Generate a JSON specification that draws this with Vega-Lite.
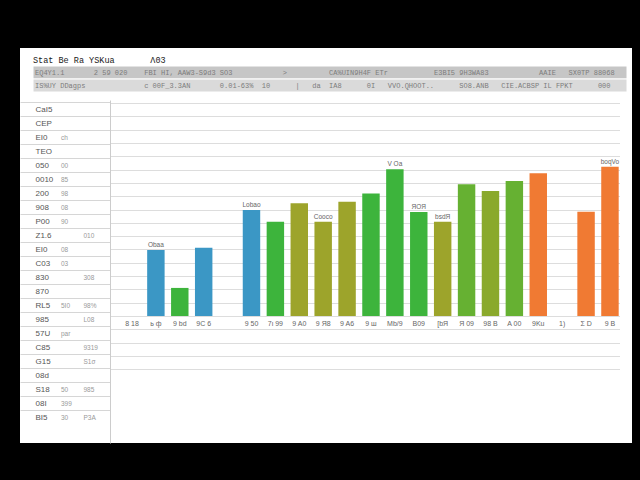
{
  "$schema": "https://vega.github.io/schema/vega-lite/v6.json",
  "background": "#000000",
  "padding": {"left": 20, "top": 48, "right": 8, "bottom": 37},
  "spacing": 0,
  "resolve": {"scale": {"color": "independent", "size": "independent"}},
  "config": {"view": {"fill": "#ffffff", "stroke": null}},
  "datasets": {
    "header": [
      {"row": "t", "txt": "Stat Be Ra YSKua\u00a0\u00a0\u00a0\u00a0\u00a0\u00a0\u00a0Λ03"},
      {"row": "b1", "txt": "EQ4Y1.1\u00a0\u00a0\u00a0\u00a0\u00a0\u00a0\u00a02 59 020\u00a0\u00a0\u00a0\u00a0FBI HI, AAW3-S9d3 SO3\u00a0\u00a0\u00a0\u00a0\u00a0\u00a0\u00a0\u00a0\u00a0\u00a0\u00a0\u00a0>\u00a0\u00a0\u00a0\u00a0\u00a0\u00a0\u00a0\u00a0\u00a0\u00a0CA%UIN9H4F ETr\u00a0\u00a0\u00a0\u00a0\u00a0\u00a0\u00a0\u00a0\u00a0\u00a0\u00a0E3BI5 9H3WA83\u00a0\u00a0\u00a0\u00a0\u00a0\u00a0\u00a0\u00a0\u00a0\u00a0\u00a0\u00a0AAIE\u00a0\u00a0\u00a0SX0TP 88068"},
      {"row": "b2", "txt": "IS%UY DDagps\u00a0\u00a0\u00a0\u00a0\u00a0\u00a0\u00a0\u00a0\u00a0\u00a0\u00a0\u00a0\u00a0\u00a0c 00F_3.3AN\u00a0\u00a0\u00a0\u00a0\u00a0\u00a0\u00a00.01-63%\u00a0\u00a010\u00a0\u00a0\u00a0\u00a0\u00a0\u00a0|\u00a0\u00a0\u00a0da\u00a0\u00a0IA8\u00a0\u00a0\u00a0\u00a0\u00a0\u00a00I\u00a0\u00a0\u00a0VVO.QHOOT..\u00a0\u00a0\u00a0\u00a0\u00a0\u00a0SO8.ANB\u00a0\u00a0\u00a0CIE.ACBSP IL FPKT\u00a0\u00a0\u00a0\u00a0\u00a0\u00a0000"}
    ],
    "table": [
      {"r": 1, "c": "a", "t": "CaI5"},
      {"r": 2, "c": "a", "t": "CEP"},
      {"r": 3, "c": "a", "t": "EI0"}, {"r": 3, "c": "b", "t": "ch"},
      {"r": 4, "c": "a", "t": "TEO"},
      {"r": 5, "c": "a", "t": "050"}, {"r": 5, "c": "b", "t": "00"},
      {"r": 6, "c": "a", "t": "0010"}, {"r": 6, "c": "b", "t": "85"},
      {"r": 7, "c": "a", "t": "200"}, {"r": 7, "c": "b", "t": "98"},
      {"r": 8, "c": "a", "t": "908"}, {"r": 8, "c": "b", "t": "08"},
      {"r": 9, "c": "a", "t": "P00"}, {"r": 9, "c": "b", "t": "90"},
      {"r": 10, "c": "a", "t": "Z1.6"}, {"r": 10, "c": "c", "t": "010"},
      {"r": 11, "c": "a", "t": "EI0"}, {"r": 11, "c": "b", "t": "08"},
      {"r": 12, "c": "a", "t": "C03"}, {"r": 12, "c": "b", "t": "03"},
      {"r": 13, "c": "a", "t": "830"}, {"r": 13, "c": "c", "t": "308"},
      {"r": 14, "c": "a", "t": "870"},
      {"r": 15, "c": "a", "t": "RL5"}, {"r": 15, "c": "b", "t": "5I0"}, {"r": 15, "c": "c", "t": "98%"},
      {"r": 16, "c": "a", "t": "985"}, {"r": 16, "c": "c", "t": "L08"},
      {"r": 17, "c": "a", "t": "57U"}, {"r": 17, "c": "b", "t": "par"},
      {"r": 18, "c": "a", "t": "C85"}, {"r": 18, "c": "c", "t": "9319"},
      {"r": 19, "c": "a", "t": "G15"}, {"r": 19, "c": "c", "t": "S1σ"},
      {"r": 20, "c": "a", "t": "08d"},
      {"r": 21, "c": "a", "t": "S18"}, {"r": 21, "c": "b", "t": "50"}, {"r": 21, "c": "c", "t": "985"},
      {"r": 22, "c": "a", "t": "08I"}, {"r": 22, "c": "b", "t": "399"},
      {"r": 23, "c": "a", "t": "BI5"}, {"r": 23, "c": "b", "t": "30"}, {"r": 23, "c": "c", "t": "P3A"}
    ],
    "bars": [
      {"k": "ь ф", "v": 49.6, "g": "A", "n": "Obaa"},
      {"k": "9 bd", "v": 21.1, "g": "B"},
      {"k": "9C 6", "v": 51.4, "g": "A"},
      {"k": "9 50", "v": 79.7, "g": "A", "n": "Lobao"},
      {"k": "7ι 99", "v": 70.9, "g": "B"},
      {"k": "9 A0", "v": 84.7, "g": "C"},
      {"k": "9 Я8", "v": 70.9, "g": "C", "n": "Cooco"},
      {"k": "9 A6", "v": 85.9, "g": "C"},
      {"k": "9 ш", "v": 92.1, "g": "B"},
      {"k": "Mb/9", "v": 110.3, "g": "B", "n": "V Oa"},
      {"k": "B09", "v": 78.2, "g": "B", "n": "ЯOЯ"},
      {"k": "[bЯ", "v": 70.9, "g": "C", "n": "bsdЯ"},
      {"k": "Я 09", "v": 99.0, "g": "D"},
      {"k": "98 B", "v": 94.0, "g": "E"},
      {"k": "A 00", "v": 101.5, "g": "D"},
      {"k": "9Ku", "v": 107.3, "g": "F"},
      {"k": "Ʃ D", "v": 78.4, "g": "F"},
      {"k": "9 B", "v": 112.3, "g": "F", "n": "boqVo"}
    ]
  },
  "vconcat": [
    {
      "width": 612, "height": 52,
      "data": {"name": "header"},
      "encoding": {
        "y": {"field": "row", "type": "nominal", "sort": null,
              "scale": {"domain": ["t", "b1", "b2"], "paddingInner": 0, "paddingOuter": 0.5, "align": 0.385},
              "axis": null}
      },
      "layer": [
        {
          "transform": [{"filter": "datum.row !== 't'"}],
          "mark": {"type": "rect", "stroke": "#ffffff", "strokeWidth": 1},
          "encoding": {
            "x": {"datum": 0, "type": "quantitative", "scale": {"domain": [-13, 599], "nice": false, "zero": false}, "axis": null},
            "x2": {"datum": 594},
            "color": {"field": "row", "type": "nominal",
                      "scale": {"domain": ["b1", "b2"], "range": ["#c6c6c6", "#dadada"]},
                      "legend": null}
          }
        },
        {
          "transform": [{"filter": "datum.row === 't'"}],
          "mark": {"type": "text", "align": "left", "font": "Liberation Mono", "fontSize": 8.5, "color": "#1a1a1a"},
          "encoding": {
            "x": {"datum": 0, "type": "quantitative"},
            "text": {"field": "txt"}
          }
        },
        {
          "transform": [{"filter": "datum.row !== 't'"}],
          "mark": {"type": "text", "align": "left", "dx": 2, "font": "Liberation Mono", "fontSize": 7, "color": "#7c7c7c"},
          "encoding": {
            "x": {"datum": 0, "type": "quantitative"},
            "text": {"field": "txt"}
          }
        }
      ]
    },
    {
      "spacing": 0,
      "bounds": "flush",
      "resolve": {"scale": {"color": "independent", "size": "independent"}},
      "hconcat": [
        {
          "width": 90, "height": 343,
          "data": {"name": "table"},
          "encoding": {
            "y": {"field": "r", "type": "ordinal",
                  "scale": {"type": "band", "paddingInner": 0, "paddingOuter": 0.75, "align": 0.14},
                  "axis": {"orient": "right", "title": null, "labels": false, "ticks": false, "domain": false, "grid": true,
                           "bandPosition": 0, "gridColor": "#d6d6d6", "minExtent": 0, "maxExtent": 0}},
            "x": {"field": "c", "type": "nominal",
                  "scale": {"type": "point", "domain": ["p", "a", "b", "c", "d"], "padding": 0},
                  "axis": null},
            "text": {"field": "t"}
          },
          "layer": [
            {
              "transform": [{"filter": "datum.c === 'a'"}],
              "mark": {"type": "text", "align": "left", "dx": -7, "font": "Liberation Sans", "fontSize": 8, "color": "#555555", "clip": true}
            },
            {
              "transform": [{"filter": "datum.c !== 'a'"}],
              "mark": {"type": "text", "align": "left", "dx": -4, "font": "Liberation Sans", "fontSize": 6.5, "color": "#999999", "clip": true}
            }
          ]
        },
        {
          "width": 510, "height": 343,
          "data": {"name": "bars"},
          "encoding": {
            "x": {"field": "k", "type": "nominal", "sort": null,
                  "scale": {"domain": ["8 18", "ь ф", "9 bd", "9C 6", " ", "9 50", "7ι 99", "9 A0", "9 Я8", "9 A6", "9 ш", "Mb/9", "B09", "[bЯ", "Я 09", "98 B", "A 00", "9Ku", "1)", "Ʃ D", "9 B"],
                            "paddingInner": 0.27, "paddingOuter": 0.305, "align": 0.91},
                  "axis": {"orient": "bottom", "offset": -127, "title": null, "domain": false, "ticks": false,
                           "labelAngle": 0, "labelFontSize": 7, "labelColor": "#666666", "labelPadding": 3,
                           "labelOverlap": false, "labelFont": "Liberation Sans"}},
            "y": {"field": "v", "type": "quantitative",
                  "scale": {"domain": [-95.5, 162.4], "nice": false, "zero": false},
                  "axis": {"title": null, "labels": false, "ticks": false, "domain": true, "domainColor": "#cccccc", "grid": true,
                           "values": [-40, -30, -20, -10, 0, 10, 20, 30, 40, 50, 60, 70, 80, 90, 100, 110, 120, 130, 140, 150, 160],
                           "gridColor": "#dddddd", "minExtent": 0, "maxExtent": 0}}
          },
          "layer": [
            {
              "mark": {"type": "bar"},
              "encoding": {
                "y2": {"datum": 0},
                "color": {"field": "g", "type": "nominal",
                          "scale": {"domain": ["A", "B", "C", "D", "E", "F"],
                                    "range": ["#3b97c5", "#3db43c", "#9da42b", "#66b132", "#8aa92c", "#f07a33"]},
                          "legend": null}
              }
            },
            {
              "transform": [{"filter": "datum.n"}],
              "mark": {"type": "text", "dy": -5, "fontSize": 6.5, "color": "#666666", "font": "Liberation Sans", "clip": true},
              "encoding": {"text": {"field": "n"}}
            }
          ]
        },
        {"width": 12, "height": 343, "data": {"values": [{}]}, "mark": {"type": "rect", "color": "#ffffff"}, "encoding": {}}
      ]
    }
  ]
}
